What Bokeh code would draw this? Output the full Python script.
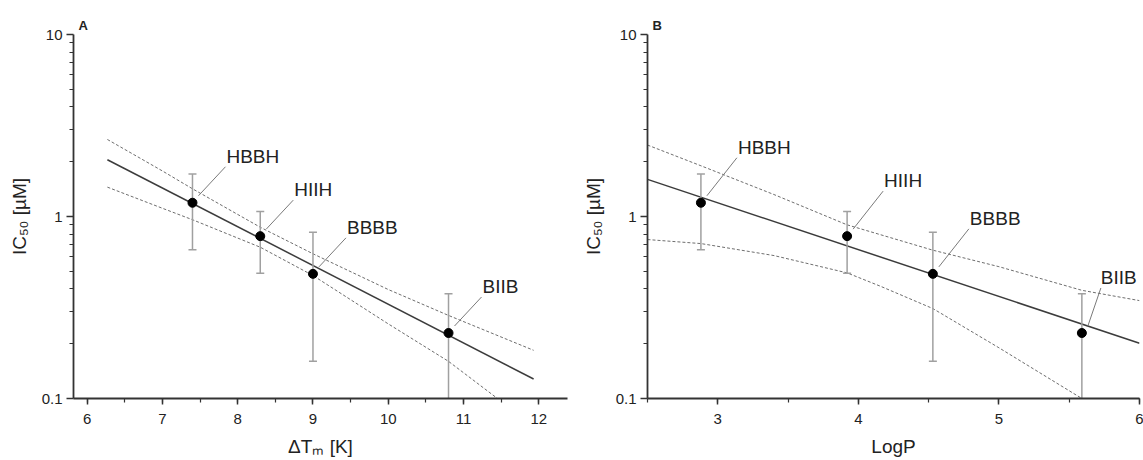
from bokeh.plotting import figure
from bokeh.layouts import row
from bokeh.models import (ColumnDataSource, Range1d, SingleIntervalTicker, FixedTicker,
                          LabelSet)
from bokeh.core.properties import value
from bokeh.embed import file_html
from bokeh.resources import INLINE

# ---------------- data ----------------
compounds = ["HBBH", "HIIH", "BBBB", "BIIB"]
ic50 = [1.19, 0.78, 0.484, 0.229]
ic50_hi = [1.71, 1.065, 0.82, 0.376]
ic50_lo = [0.656, 0.488, 0.16, 0.08]
dtm = [7.4, 8.3, 9.0, 10.8]
logp = [2.88, 3.92, 4.53, 5.59]

fitA_x = [6.27, 11.93]
fitA_y = [2.05, 0.128]
bandA_up_x = [6.27, 7.0, 7.4, 8.3, 9.0, 10.0, 10.8, 11.93]
bandA_up = [2.65, 1.78, 1.42, 0.873, 0.624, 0.397, 0.286, 0.184]
bandA_lo_x = [6.27, 7.0, 7.4, 8.3, 9.0, 10.0, 10.8, 11.45]
bandA_lo = [1.45, 1.11, 0.96, 0.678, 0.474, 0.257, 0.16, 0.10]

fitB_x = [2.5, 6.0]
fitB_y = [1.60, 0.201]
bandB_up_x = [2.5, 2.88, 3.4, 3.92, 4.53, 5.0, 5.59, 6.0]
bandB_up = [2.47, 1.90, 1.32, 0.90, 0.653, 0.53, 0.393, 0.345]
bandB_lo_x = [2.5, 2.88, 3.4, 3.92, 4.16, 4.53, 5.0, 5.59]
bandB_lo = [0.747, 0.71, 0.61, 0.49, 0.413, 0.312, 0.19, 0.10]

y_major = [0.1, 1, 10]
y_minor = [m * d for d in (0.1, 1) for m in range(2, 10)]

FONT = "Liberation Sans"
AXC = "#333333"
TXT = "#222222"
FH = 364


def panel(letter, xs, xr, fx, fy, ux, uy, lx, ly, lead_end, text_dx, bl, br, fw, xlabel):
    p = figure(x_range=Range1d(*xr), y_range=Range1d(0.1, 10), y_axis_type="log",
               frame_width=fw, frame_height=FH, min_border_left=bl, min_border_right=br,
               min_border_top=34, min_border_bottom=62,
               output_backend="svg", toolbar_location=None)
    p.title.text = letter
    p.title.text_font = FONT
    p.title.text_font_size = "13px"
    p.title.text_font_style = "bold"
    p.title.text_color = TXT
    p.title.align = "left"
    p.title.offset = 5
    p.title.standoff = 3
    p.outline_line_color = None
    p.xgrid.visible = False
    p.ygrid.visible = False
    p.background_fill_color = "white"
    p.border_fill_color = "white"

    for ax in (p.xaxis[0], p.yaxis[0]):
        ax.axis_line_color = AXC
        ax.axis_line_width = 1.8
        ax.major_tick_line_color = AXC
        ax.major_tick_line_width = 1.5
        ax.minor_tick_line_color = AXC
        ax.minor_tick_line_width = 1.2
        ax.major_tick_in = 0
        ax.minor_tick_in = 0
        ax.major_label_text_font = FONT
        ax.major_label_text_font_size = "15px"
        ax.major_label_text_color = TXT
        ax.axis_label_text_font = FONT
        ax.axis_label_text_font_size = "19px"
        ax.axis_label_text_font_style = "normal"
        ax.axis_label_text_color = TXT
    p.xaxis.ticker = SingleIntervalTicker(interval=1, num_minor_ticks=2)
    p.xaxis.major_tick_out = 6
    p.xaxis.minor_tick_out = 4
    p.xaxis.major_label_standoff = 9
    p.xaxis.axis_label = xlabel
    p.xaxis.axis_label_standoff = 9
    p.yaxis.ticker = FixedTicker(ticks=y_major, minor_ticks=y_minor)
    p.yaxis.major_tick_out = 7
    p.yaxis.minor_tick_out = 4
    p.yaxis.major_label_standoff = 4
    p.yaxis.major_label_overrides = {0.1: "0.1", 1: "1", 10: "10"}
    p.yaxis.axis_label = "IC\u2085\u2080 [\u00b5M]"
    p.yaxis.axis_label_standoff = 9

    # confidence bands and fit
    p.line(ux, uy, line_color="#6e6e6e", line_width=1, line_dash="3 2")
    p.line(lx, ly, line_color="#6e6e6e", line_width=1, line_dash="3 2")
    p.line(fx, fy, line_color="#3c3c3c", line_width=1.5)

    # error bars
    ebc = "#a0a0a0"
    p.segment(x0=xs, y0=ic50_lo, x1=xs, y1=ic50_hi, line_color=ebc, line_width=1.5)
    p.scatter(xs, ic50_hi, marker="dash", size=8, line_color=ebc, line_width=1.5)
    p.scatter(xs, ic50_lo, marker="dash", size=8, line_color=ebc, line_width=1.5)

    # points
    p.scatter(xs, ic50, marker="circle", size=9, fill_color="black", line_color="black")

    # leader lines (pixel offsets converted to data space)
    ppu = fw / (xr[1] - xr[0])
    ppd = FH / 2.0
    x0 = [x + 6 / ppu for x in xs]
    y0 = [y * 10 ** (7 / ppd) for y in ic50]
    x1 = [x + dx / ppu for x, (dx, dy) in zip(xs, lead_end)]
    y1 = [y * 10 ** (dy / ppd) for y, (dx, dy) in zip(ic50, lead_end)]
    p.segment(x0=x0, y0=y0, x1=x1, y1=y1, line_color="#7a7a7a", line_width=1)

    src = ColumnDataSource(dict(x=xs, y=ic50, name=compounds,
                                dx=text_dx,
                                dy=[dy + 4 for dx, dy in lead_end]))
    p.add_layout(LabelSet(x="x", y="y", text="name", source=src, x_offset="dx", y_offset="dy",
                          text_font=value(FONT), text_font_size="19px", text_color=TXT,
                          text_align="left", text_baseline="alphabetic"))
    return p


pA = panel("A", dtm, (5.82, 12.38), fitA_x, fitA_y, bandA_up_x, bandA_up, bandA_lo_x, bandA_lo,
           [(33, 36)] * 4, [34, 34, 34, 34], 73, 12, 494, "\u0394T\u2098 [K]")
pB = panel("B", logp, (2.5, 6.0), fitB_x, fitB_y, bandB_up_x, bandB_up, bandB_lo_x, bandB_lo,
           [(36, 45), (36, 45), (36, 45), (19, 45)], [37, 37, 37, 19], 66, 6, 492, "LogP")

layout = row(pA, pB, spacing=0)
open("out.html", "w").write(file_html(layout, INLINE))
